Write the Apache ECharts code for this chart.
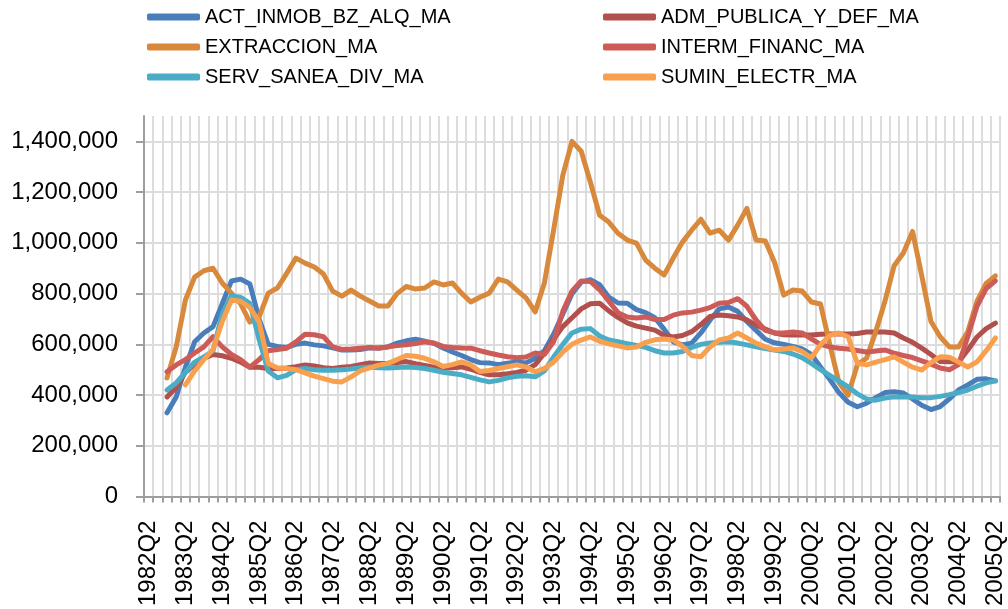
<!DOCTYPE html>
<html>
<head>
<meta charset="utf-8">
<script src="https://cdn.jsdelivr.net/npm/echarts@6/dist/echarts.min.js"></script>
<style>
  html, body { margin: 0; padding: 0; background: #fff; }
  #chart { width: 1008px; height: 609px; }
</style>
</head>
<body>
<div id="chart"></div>
<script>
// 季度分类 1982Q2 .. 2005Q2
const quarters = [];
for (let y = 1982; y <= 2005; y++) {
    for (let q = 1; q <= 4; q++) {
        if ((y === 1982 && q < 2) || (y === 2005 && q > 2)) continue;
        quarters.push(y + 'Q' + q);
    }
}

const seriesNames = ['ACT_INMOB_BZ_ALQ_MA', 'ADM_PUBLICA_Y_DEF_MA', 'EXTRACCION_MA',
    'INTERM_FINANC_MA', 'SERV_SANEA_DIV_MA', 'SUMIN_ELECTR_MA'];
const seriesColors = ['#4A7EBB', '#B1504C', '#D8893B', '#CD5C58', '#4BACC6', '#F9A04F'];

const actInmob = [null, null,
    330000, 393000, 510000, 610000, 645000, 670000, 760000, 850000, 857000, 838000,
    700000, 600000, 592000, 588000, 600000, 605000, 598000, 594000, 586000, 578000,
    578000, 580000, 586000, 586000, 590000, 605000, 614000, 620000, 612000, 604000,
    586000, 570000, 556000, 540000, 528000, 527000, 520000, 526000, 531000, 527000,
    545000, 575000, 640000, 720000, 800000, 845000, 855000, 835000, 786000, 763000,
    762000, 737000, 725000, 705000, 660000, 610000, 598000, 605000, 645000, 696000,
    740000, 747000, 730000, 690000, 655000, 620000, 606000, 600000, 592000, 582000,
    560000, 511000, 462000, 410000, 372000, 354000, 368000, 390000, 410000, 413000,
    408000, 385000, 360000, 343000, 355000, 385000, 420000, 440000, 462000, 464000,
    456000];

const admPublica = [null, null,
    393000, 430000, 490000, 520000, 545000, 560000, 555000, 545000, 530000, 510000,
    510000, 505000, 505000, 507000, 512000, 519000, 515000, 508000, 505000, 510000,
    513000, 520000, 527000, 525000, 526000, 528000, 532000, 524000, 517000, 510000,
    507000, 508000, 511000, 502000, 490000, 480000, 480000, 484000, 489000, 498000,
    520000, 565000, 620000, 670000, 705000, 740000, 760000, 762000, 732000, 706000,
    685000, 672000, 664000, 656000, 636000, 629000, 635000, 650000, 678000, 710000,
    716000, 713000, 708000, 696000, 676000, 660000, 645000, 638000, 637000, 637000,
    637000, 640000, 641000, 641000, 641000, 643000, 649000, 649000, 649000, 645000,
    625000, 608000, 585000, 560000, 532000, 531000, 531000, 578000, 629000, 662000,
    684000];

const extraccion = [null, null,
    468000, 590000, 775000, 865000, 890000, 900000, 842000, 802000, 760000, 688000,
    708000, 802000, 822000, 880000, 940000, 920000, 905000, 877000, 810000, 790000,
    814000, 790000, 771000, 751000, 751000, 800000, 828000, 818000, 822000, 846000,
    834000, 842000, 802000, 767000, 786000, 802000, 857000, 846000, 814000, 783000,
    728000, 842000, 1050000, 1266000, 1400000, 1361000, 1239000, 1109000, 1082000, 1038000,
    1011000, 999000, 932000, 900000, 873000, 940000, 1003000, 1050000, 1093000, 1038000,
    1050000, 1011000, 1070000, 1136000, 1011000, 1007000, 924000, 794000, 814000, 810000,
    767000, 759000, 600000, 450000, 400000, 520000, 545000, 650000, 770000, 910000,
    960000, 1045000, 870000, 690000, 630000, 590000, 590000, 650000, 770000, 840000,
    870000];

const intermFinanc = [null, null,
    492000, 519000, 540000, 566000, 590000, 630000, 590000, 560000, 540000, 510000,
    540000, 575000, 580000, 585000, 610000, 640000, 638000, 630000, 590000, 580000,
    582000, 585000, 588000, 585000, 590000, 595000, 598000, 603000, 610000, 605000,
    592000, 588000, 586000, 585000, 575000, 566000, 558000, 551000, 547000, 550000,
    566000, 560000, 610000, 730000, 810000, 850000, 848000, 815000, 770000, 725000,
    708000, 704000, 708000, 698000, 698000, 715000, 724000, 727000, 735000, 745000,
    762000, 765000, 780000, 750000, 696000, 655000, 645000, 645000, 649000, 645000,
    622000, 600000, 590000, 585000, 582000, 576000, 570000, 574000, 578000, 565000,
    556000, 548000, 535000, 522000, 507000, 500000, 520000, 630000, 750000, 820000,
    850000];

const servSanea = [null, null,
    420000, 448000, 490000, 530000, 550000, 575000, 720000, 792000, 785000, 762000,
    620000, 495000, 468000, 478000, 500000, 505000, 500000, 498000, 498000, 500000,
    503000, 508000, 511000, 508000, 507000, 509000, 511000, 509000, 505000, 498000,
    490000, 485000, 480000, 470000, 460000, 452000, 458000, 468000, 474000, 476000,
    472000, 495000, 550000, 600000, 645000, 660000, 662000, 633000, 617000, 610000,
    603000, 596000, 588000, 575000, 566000, 566000, 572000, 588000, 600000, 605000,
    608000, 610000, 605000, 598000, 590000, 584000, 578000, 572000, 562000, 548000,
    525000, 500000, 478000, 455000, 432000, 405000, 385000, 380000, 388000, 393000,
    393000, 393000, 390000, 390000, 395000, 402000, 410000, 420000, 435000, 448000,
    456000];

const suminElectr = [null, null,
    null, null, 440000, 495000, 540000, 580000, 690000, 775000, 770000, 745000,
    690000, 525000, 507000, 505000, 500000, 488000, 475000, 465000, 455000, 452000,
    472000, 495000, 507000, 518000, 525000, 540000, 556000, 553000, 545000, 531000,
    513000, 520000, 531000, 519000, 493000, 497000, 505000, 512000, 519000, 511000,
    492000, 505000, 530000, 570000, 600000, 617000, 629000, 612000, 602000, 594000,
    586000, 590000, 608000, 618000, 621000, 617000, 592000, 556000, 551000, 590000,
    617000, 625000, 645000, 625000, 605000, 590000, 578000, 582000, 586000, 572000,
    547000, 598000, 635000, 645000, 630000, 525000, 519000, 530000, 540000, 551000,
    530000, 510000, 499000, 528000, 551000, 549000, 530000, 511000, 531000, 575000,
    625000];

const seriesData = [actInmob, admPublica, extraccion, intermFinanc, servSanea, suminElectr];

const FONT = '"Liberation Sans", Arial, sans-serif';

const chart = echarts.init(document.getElementById('chart'), null, { renderer: 'canvas' });

const legendBase = {
    orient: 'vertical',
    top: 7,
    padding: 0,
    itemGap: 10,
    itemWidth: 53,
    itemHeight: 7,
    icon: 'roundRect',
    selectedMode: false,
    textStyle: { fontSize: 20, lineHeight: 20, color: '#000', fontFamily: FONT }
};

const option = {
    animation: false,
    backgroundColor: '#fff',
    legend: [
        Object.assign({}, legendBase, { left: 147, data: [seriesNames[0], seriesNames[2], seriesNames[4]] }),
        Object.assign({}, legendBase, { left: 603, data: [seriesNames[1], seriesNames[3], seriesNames[5]] })
    ],
    grid: { left: 144, right: 8, top: 116, bottom: 112, containLabel: false },
    xAxis: {
        type: 'category',
        data: quarters,
        boundaryGap: true,
        axisLine: { show: true, lineStyle: { color: '#9e9e9e', width: 2 } },
        axisTick: { show: true, interval: 0, length: 6, lineStyle: { color: '#9e9e9e', width: 2 } },
        axisLabel: {
            interval: 3,
            rotate: 90,
            margin: 24,
            fontSize: 24,
            color: '#000',
            fontFamily: FONT
        },
        splitLine: { show: true, interval: 0, lineStyle: { color: '#dcdcdc', width: 2 } }
    },
    yAxis: {
        type: 'value',
        min: 0,
        max: 1500000,
        interval: 200000,
        axisLine: { show: true, lineStyle: { color: '#9e9e9e', width: 2 } },
        axisTick: { show: true, length: 8, lineStyle: { color: '#9e9e9e', width: 2 } },
        axisLabel: {
            showMaxLabel: false,
            margin: 26,
            fontSize: 24,
            color: '#000',
            fontFamily: FONT,
            formatter: v => v > 1400000 ? '' : v.toLocaleString('en-US')
        },
        splitLine: { show: true, showMaxLine: false, lineStyle: { color: '#dcdcdc', width: 2 } }
    },
    series: seriesNames.map((name, i) => ({
        name: name,
        type: 'line',
        data: seriesData[i],
        symbol: 'none',
        smooth: false,
        itemStyle: { color: seriesColors[i] },
        lineStyle: { color: seriesColors[i], width: 5, cap: 'round', join: 'round' }
    }))
};

chart.setOption(option);
window.addEventListener('resize', () => chart.resize());
</script>
</body>
</html>
